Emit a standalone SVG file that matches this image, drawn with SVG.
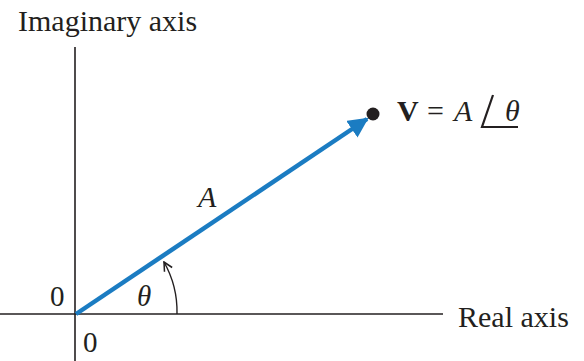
<svg xmlns="http://www.w3.org/2000/svg" width="584" height="361" viewBox="0 0 584 361">
<style>
text{font-family:"Liberation Serif","Times New Roman",serif;fill:#231f20}
.ax{stroke:#231f20;stroke-width:1.6;fill:none}
.it{font-style:italic}
</style>
<defs>
<marker id="bh" viewBox="0 0 10 10" refX="9" refY="5" markerWidth="4.5" markerHeight="4.5" orient="auto" markerUnits="strokeWidth">
<path d="M0,0 L10,5 L0,10 z" fill="#1b7cc2"/>
</marker>
<marker id="ah" viewBox="0 0 10 10" refX="9" refY="5" markerWidth="11" markerHeight="11" orient="auto" markerUnits="userSpaceOnUse">
<path d="M1,1 L9,5 L1,9" fill="none" stroke="#231f20" stroke-width="1.4"/>
</marker>
</defs>
<g id="axes">
<line class="ax" x1="75" y1="47" x2="75" y2="361"/>
<line class="ax" x1="0" y1="314" x2="443" y2="314"/>
<text x="18" y="31" font-size="30">Imaginary axis</text>
<text x="458" y="327" font-size="30">Real axis</text>
<text x="50" y="306" font-size="29">0</text>
<text x="83" y="352" font-size="29">0</text>
</g>
<g id="connectors">
<line x1="76" y1="314" x2="367" y2="119" stroke="#1b7cc2" stroke-width="4.5" marker-end="url(#bh)"/>
<path d="M177,314 A101,101 0 0 0 164,262" fill="none" stroke="#231f20" stroke-width="1.4" marker-end="url(#ah)"/>
</g>
<g id="labels">
<text class="it" x="137" y="306" font-size="29">θ</text>
<text class="it" x="198" y="207" font-size="30">A</text>
<circle cx="373" cy="114" r="6.5" fill="#231f20"/>
<text x="397" y="121" font-size="30" font-weight="bold">V</text>
<text x="427" y="121" font-size="30">=</text>
<text class="it" x="454" y="121" font-size="30">A</text>
<path d="M493,95 L482,127 L518,127" fill="none" stroke="#231f20" stroke-width="2.2"/>
<text class="it" x="505" y="121" font-size="30">θ</text>
</g>
</svg>
